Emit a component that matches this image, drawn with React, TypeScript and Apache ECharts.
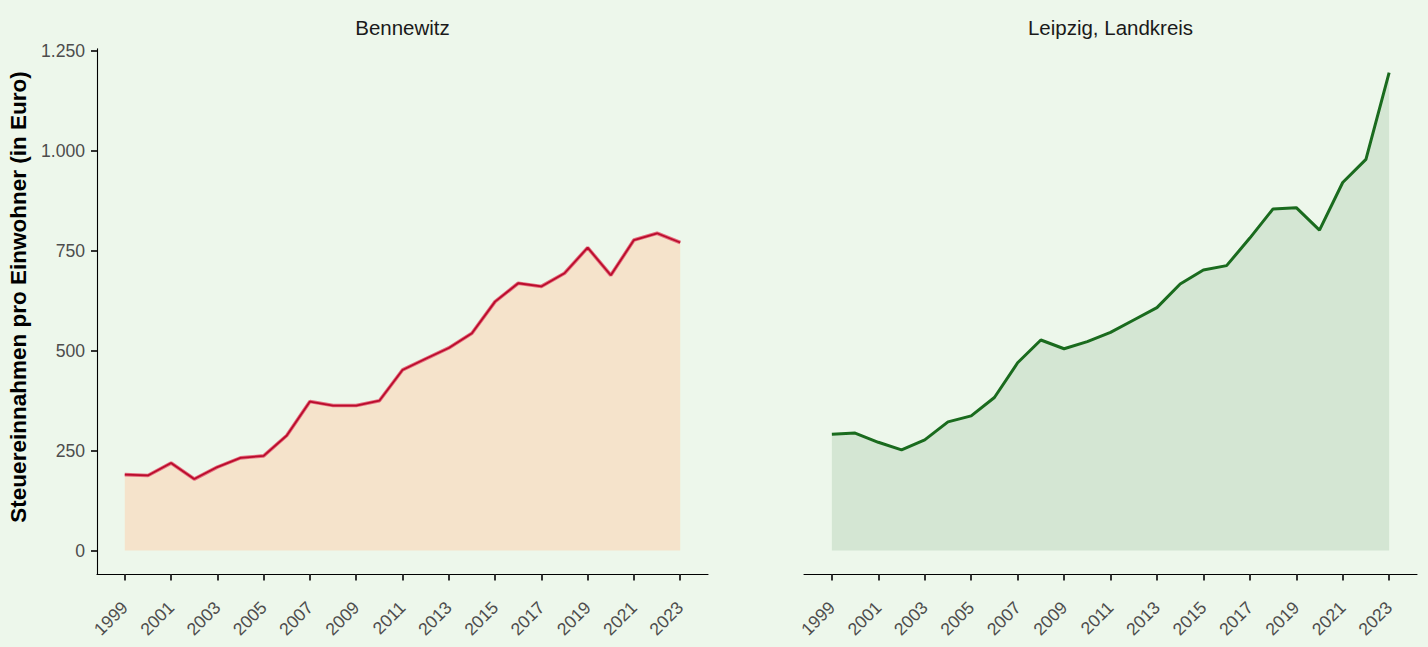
import React, { useEffect, useRef } from "react";
import * as echarts from "echarts";

const years = [1999, 2000, 2001, 2002, 2003, 2004, 2005, 2006, 2007, 2008, 2009, 2010, 2011, 2012, 2013, 2014, 2015, 2016, 2017, 2018, 2019, 2020, 2021, 2022, 2023];
const bennewitz = [190, 188, 219, 179, 209, 232, 237, 288, 373, 363, 363, 375, 452, 480, 507, 544, 623, 669, 661, 694, 758, 689, 777, 794, 771];
const leipzig = [291, 294, 271, 252, 277, 322, 337, 383, 470, 527, 505, 523, 546, 577, 608, 667, 702, 713, 782, 855, 858, 802, 921, 979, 1196];
const panelTitles = ["Bennewitz", "Leipzig, Landkreis"];
const yTicks = [0, 250, 500, 750, 1000, 1250];
const xTicks = [1999, 2001, 2003, 2005, 2007, 2009, 2011, 2013, 2015, 2017, 2019, 2021, 2023];
const yTitle = "Steuereinnahmen pro Einwohner (in Euro)";

const fmtDe = (v: number) => {
  const s = String(Math.round(v));
  return s.replace(/\B(?=(\d{3})+(?!\d))/g, ".");
};

export default function App() {
  const ref = useRef<HTMLDivElement>(null);
  useEffect(() => {
    if (!ref.current) return;
    const chart = echarts.init(ref.current, null, { renderer: "svg" });
    const yMin = -59.8;
    const yMax = 1255.6;
    const xMin = 1997.8;
    const xMax = 2024.2;
    const tickColor = "#333333";
    const labelColor = "#4D4D4D";
    const mkX = (gi: number) => ({
      type: "value",
      gridIndex: gi,
      min: xMin,
      max: xMax,
      axisLine: { show: true, onZero: false, lineStyle: { color: "#000000", width: 1.1 } },
      axisTick: { show: true, customValues: xTicks, length: 6, lineStyle: { color: tickColor, width: 2 } },
      axisLabel: {
        customValues: xTicks,
        rotate: 45,
        margin: 30,
        color: labelColor,
        fontSize: 17.6,
        fontFamily: "Liberation Sans, Arial, sans-serif",
        formatter: (v: number) => String(v),
      },
      splitLine: { show: false },
    });
    const mkY = (gi: number, show: boolean) => ({
      type: "value",
      gridIndex: gi,
      min: yMin,
      max: yMax,
      axisLine: { show, lineStyle: { color: "#000000", width: 1.1 } },
      axisTick: { show, customValues: yTicks, length: 6, lineStyle: { color: tickColor, width: 2 } },
      axisLabel: {
        show,
        customValues: yTicks,
        margin: 12,
        color: labelColor,
        fontSize: 17.6,
        fontFamily: "Liberation Sans, Arial, sans-serif",
        formatter: (v: number) => fmtDe(v),
      },
      splitLine: { show: false },
    });
    const toPairs = (vals: number[]) => years.map((y, i) => [y, vals[i]]);
    chart.setOption({
      animation: false,
      backgroundColor: "#EDF7EB",
      grid: [
        { left: 97, top: 48.8, width: 611, bottom: 72.5 },
        { left: 804, top: 48.8, width: 613, bottom: 72.5 },
      ],
      xAxis: [mkX(0), mkX(1)],
      yAxis: [mkY(0, true), mkY(1, false)],
      series: [
        {
          type: "line",
          xAxisIndex: 0,
          yAxisIndex: 0,
          data: toPairs(bennewitz),
          symbol: "none",
          lineStyle: { color: "#E46A7C", width: 3.6 },
          areaStyle: { color: "#F5E3CB", opacity: 1, origin: 0 },
          z: 2,
        },
        {
          type: "line",
          xAxisIndex: 0,
          yAxisIndex: 0,
          data: toPairs(bennewitz),
          symbol: "none",
          lineStyle: { color: "#BA0C2C", width: 1.8 },
          z: 3,
        },
        {
          type: "line",
          xAxisIndex: 1,
          yAxisIndex: 1,
          data: toPairs(leipzig),
          symbol: "none",
          lineStyle: { color: "#1A6B1E", width: 3 },
          areaStyle: { color: "#D4E6D3", opacity: 1, origin: 0 },
          z: 2,
        },
      ],
      graphic: [
        {
          type: "text",
          x: 402.5,
          y: 27,
          style: {
            text: panelTitles[0],
            font: "20.5px 'Liberation Sans', Arial, sans-serif",
            fill: "#1A1A1A",
            textAlign: "center",
            textVerticalAlign: "middle",
          },
        },
        {
          type: "text",
          x: 1110.5,
          y: 27,
          style: {
            text: panelTitles[1],
            font: "20.5px 'Liberation Sans', Arial, sans-serif",
            fill: "#1A1A1A",
            textAlign: "center",
            textVerticalAlign: "middle",
          },
        },
        {
          type: "text",
          x: 18,
          y: 297,
          rotation: Math.PI / 2,
          style: {
            text: yTitle,
            font: "bold 22.5px 'Liberation Sans', Arial, sans-serif",
            fill: "#000000",
            textAlign: "center",
            textVerticalAlign: "middle",
          },
        },
      ],
    });
    return () => chart.dispose();
  }, []);
  return (
    <div
      ref={ref}
      style={{ position: "fixed", left: 0, top: 0, width: 1428, height: 647 }}
    />
  );
}
